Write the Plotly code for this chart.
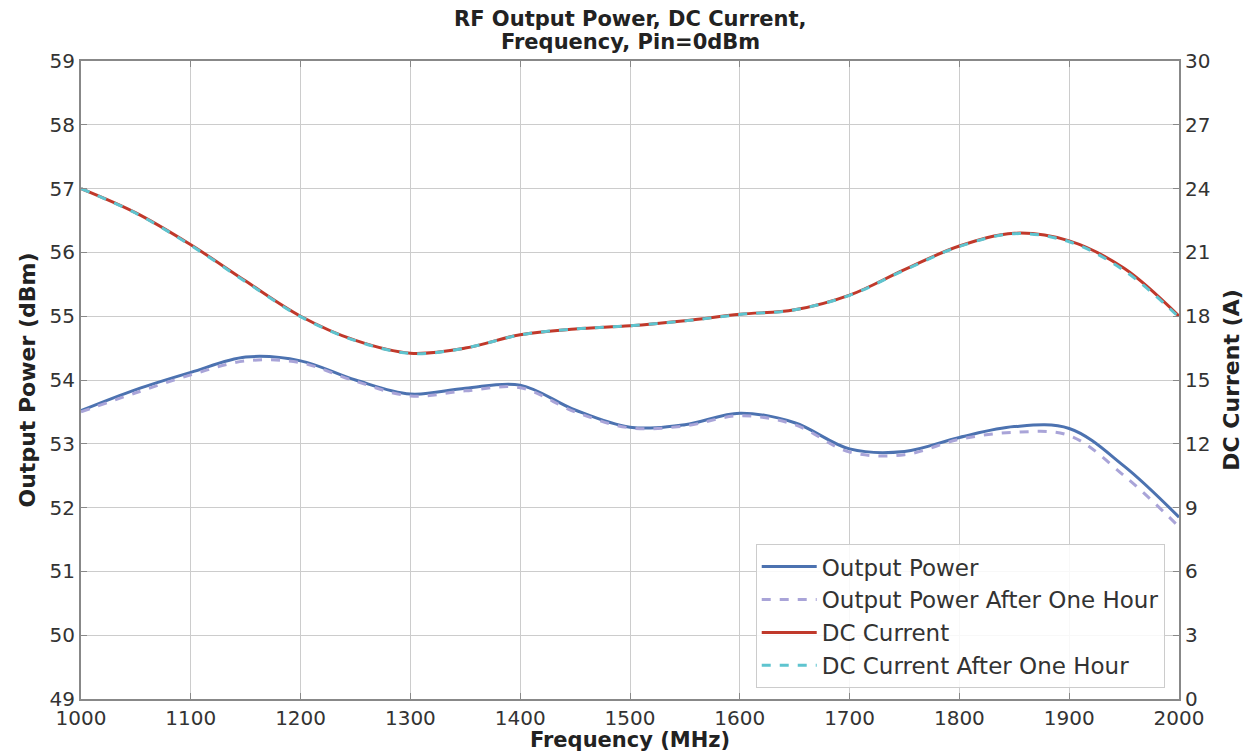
import plotly.graph_objects as go

freq = [1000, 1050, 1100, 1150, 1200, 1250, 1300, 1350, 1400, 1450, 1500,
        1550, 1600, 1650, 1700, 1750, 1800, 1850, 1900, 1950, 2000]

output_power = [53.52, 53.85, 54.12, 54.36, 54.30, 54.00, 53.78, 53.87, 53.92, 53.53, 53.26,
                53.30, 53.48, 53.33, 52.92, 52.88, 53.10, 53.27, 53.24, 52.65, 51.85]

output_power_1h = [53.50, 53.80, 54.08, 54.30, 54.27, 53.98, 53.75, 53.83, 53.88, 53.50, 53.25,
                   53.28, 53.44, 53.30, 52.87, 52.83, 53.07, 53.18, 53.13, 52.50, 51.70]

dc_current = [24.0, 22.86, 21.36, 19.65, 18.0, 16.86, 16.26, 16.5, 17.13, 17.4, 17.55,
              17.79, 18.09, 18.3, 18.99, 20.19, 21.3, 21.9, 21.54, 20.25, 18.0]

dc_current_1h = [24.0, 22.84, 21.33, 19.62, 17.98, 16.85, 16.25, 16.5, 17.12, 17.4, 17.55,
                 17.78, 18.08, 18.3, 18.98, 20.17, 21.28, 21.88, 21.5, 20.15, 17.95]

x_ticks = [1000, 1100, 1200, 1300, 1400, 1500, 1600, 1700, 1800, 1900, 2000]
y_left_ticks = [49, 50, 51, 52, 53, 54, 55, 56, 57, 58, 59]
y_right_ticks = [0, 3, 6, 9, 12, 15, 18, 21, 24, 27, 30]

title_lines = ["RF Output Power, DC Current,", "Frequency, Pin=0dBm"]
x_title = "Frequency (MHz)"

FONT = "DejaVu Sans"
TXT = "#333333"

# page has an 8px body margin, so the figure is sized to fill the rest of the window
W, H = 1244, 745
ML, MR, MT, MB = 73, 73, 53, 54
PH = H - MT - MB

fig = go.Figure()
fig.add_trace(go.Scatter(x=freq, y=output_power, name="Output Power", mode="lines",
                         line=dict(color="#4c72b0", width=3, shape="spline"),
                         legendgroup="a"))
fig.add_trace(go.Scatter(x=freq, y=output_power_1h, name="Output Power After One Hour", mode="lines",
                         line=dict(color="#a9a4d8", width=3, dash="dash", shape="spline"),
                         legendgroup="b"))
fig.add_trace(go.Scatter(x=freq, y=dc_current, name="DC Current", mode="lines",
                         line=dict(color="#c0392b", width=3, shape="spline"),
                         yaxis="y2", legendgroup="c"))
fig.add_trace(go.Scatter(x=freq, y=dc_current_1h, name="DC Current After One Hour", mode="lines",
                         line=dict(color="#5ec4cf", width=3, dash="dash", shape="spline"),
                         yaxis="y2", legendgroup="d"))

axis_common = dict(
    showline=True, linecolor="#888888", linewidth=2,
    ticks="inside", ticklen=6, tickcolor="#888888", tickwidth=1,
    zeroline=False, automargin=False,
)

for i, line in enumerate(title_lines):
    fig.add_annotation(text="<b>%s</b>" % line, xref="paper", yref="paper",
                       x=0.5, y=1 + (MT - (11 + 23 * i)) / PH,
                       xanchor="center", yanchor="middle", showarrow=False,
                       font=dict(family=FONT, size=21, color="#222222"))

# x-axis title placed just below the tick labels
fig.add_annotation(text="<b>%s</b>" % x_title, xref="paper", yref="paper",
                   x=0.5, y=-(732 - (H - MB)) / PH, xanchor="center", yanchor="middle",
                   showarrow=False, font=dict(family=FONT, size=21, color="#222222"))

fig.update_layout(
    width=W, height=H,
    paper_bgcolor="white", plot_bgcolor="white",
    margin=dict(l=ML, r=MR, t=MT, b=MB),
    xaxis=dict(range=[1000, 2000], tickvals=x_ticks, mirror="ticks",
               showgrid=True, gridcolor="#cccccc", gridwidth=1.2,
               tickfont=dict(family=FONT, size=20, color=TXT),
               **axis_common),
    yaxis=dict(range=[49, 59], tickvals=y_left_ticks,
               showgrid=True, gridcolor="#cccccc", gridwidth=1.2,
               tickfont=dict(family=FONT, size=20, color=TXT),
               title=dict(text="<b>Output Power (dBm)</b>", standoff=8,
                          font=dict(family=FONT, size=22, color="#222222")),
               **axis_common),
    yaxis2=dict(range=[0, 30], tickvals=y_right_ticks, overlaying="y", side="right",
                showgrid=False,
                tickfont=dict(family=FONT, size=20, color=TXT),
                title=dict(text="<b>DC Current (A)</b>", standoff=14,
                           font=dict(family=FONT, size=22, color="#222222")),
                **axis_common),
    legend=dict(x=0.987, xanchor="right", y=0.017, yanchor="bottom",
                bgcolor="rgba(255,255,255,0.85)", bordercolor="#cccccc", borderwidth=1,
                font=dict(family=FONT, size=23, color=TXT),
                tracegroupgap=0, itemwidth=55),
    showlegend=True,
)

fig.write_html("out.html")
